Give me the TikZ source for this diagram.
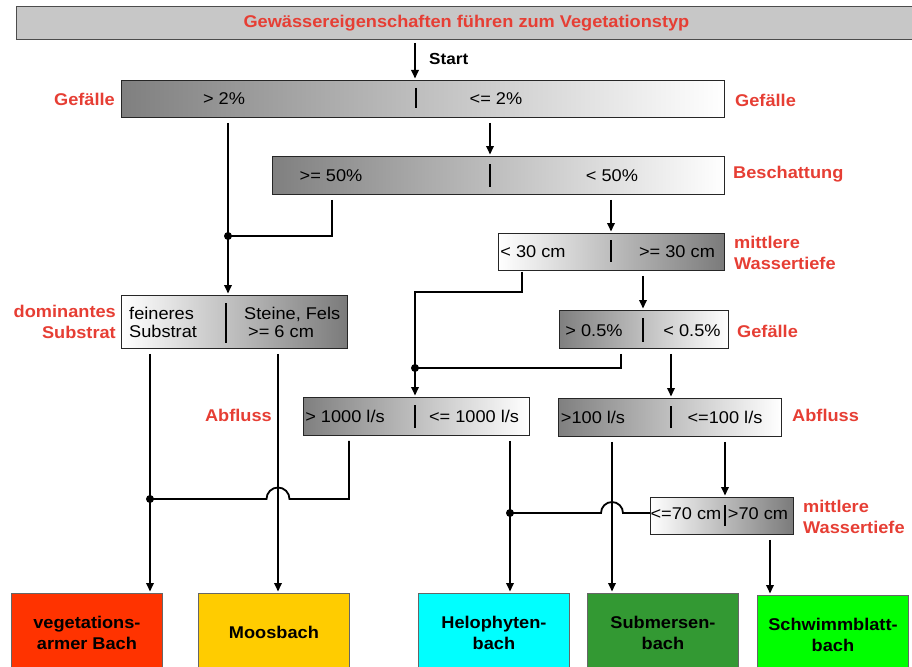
\documentclass[tikz,border=0pt]{standalone}
\usepackage{fontspec}
\setmainfont{Liberation Sans}[FakeStretch=1.07]
\usetikzlibrary{arrows.meta,calc}
\definecolor{lblred}{RGB}{230,62,52}
\definecolor{cveg}{RGB}{255,51,0}
\definecolor{cmoos}{RGB}{255,204,0}
\definecolor{chelo}{RGB}{0,255,255}
\definecolor{csubm}{RGB}{51,153,51}
\definecolor{cschw}{RGB}{0,255,0}
\begin{document}
\begin{tikzpicture}[x=1pt,y=-1pt,
  dbox/.style={draw=black!85,line width=0.9pt,inner sep=0,anchor=north west},
  darkleft/.style={left color=black!50,right color=white},
  darkright/.style={left color=white,right color=black!52},
  opt/.style={inner sep=0,font=\fontsize{17}{18}\selectfont},
  lab/.style={inner sep=0,text=lblred,font=\bfseries\fontsize{17}{21}\selectfont},
  divline/.style={line width=2.4pt},
  conn/.style={line width=1.8pt},
  from/.style={shorten <=5pt},
  arr/.style={conn,-{Triangle[length=8.5pt,width=7.5pt]},shorten >=1.5pt},
  endbox/.style={draw=black!60,line width=0.9pt,inner sep=0,anchor=north west,
    minimum width=151,minimum height=78,align=center,
    font=\bfseries\fontsize{17}{21}\selectfont},
  dot/.style={fill=black}]
\useasboundingbox (0,0) rectangle (912,666);
\clip (0,0) rectangle (912,666);

% title
\node[draw=black!70,fill=black!22,line width=0.9pt,inner sep=0,anchor=north west,
  minimum width=900,minimum height=33,text=lblred,font=\bfseries\fontsize{17}{20}\selectfont]
  (title) at (16,6) {Gewässereigenschaften führen zum Vegetationstyp};

% x positions
\coordinate (xs) at (415,0);
\coordinate (xa) at (228,0);
\coordinate (xb) at (490,0);
\coordinate (xc) at (332,0);
\coordinate (xd) at (611,0);
\coordinate (xe) at (522,0);
\coordinate (xf) at (643,0);
\coordinate (xg) at (621,0);
\coordinate (xh) at (671,0);
\coordinate (xi) at (150,0);
\coordinate (xj) at (278,0);
\coordinate (xk) at (349,0);
\coordinate (xl) at (510,0);
\coordinate (xm) at (612,0);
\coordinate (xn) at (725,0);
\coordinate (xo) at (770,0);

% decision boxes
\node[dbox,darkleft,minimum width=603,minimum height=37] (g1) at (121,80) {};
\node[dbox,darkleft,minimum width=452,minimum height=38] (g2) at (272,156) {};
\node[dbox,darkright,minimum width=226,minimum height=37] (g3) at (498,233) {};
\node[dbox,darkleft,minimum width=169,minimum height=38] (g4) at (559,310) {};
\node[dbox,darkright,minimum width=226,minimum height=53] (sub) at (121,295) {};
\node[dbox,darkleft,minimum width=226,minimum height=38] (g5) at (303,397) {};
\node[dbox,darkleft,minimum width=223,minimum height=38] (g6) at (558,398) {};
\node[dbox,darkright,minimum width=143,minimum height=37] (g7) at (650,497) {};

% dividers
\draw[divline] (416,88) -- (416,108);
\draw[divline] (490,164) -- (490,187);
\draw[divline] (611,240) -- (611,262);
\draw[divline] (643,318) -- (643,342);
\draw[divline] (226,303) -- (226,343);
\draw[divline] (415,405) -- (415,428);
\draw[divline] (671,406) -- (671,428);
\draw[divline] (725,505) -- (725,526);

% option texts
\node[opt] (g1a) at (224,99) {> 2\%};
\node[opt] (g1b) at (496,99) {<= 2\%};
\node[opt] (g2a) at (331,176) {>= 50\%};
\node[opt] (g2b) at (612,176) {< 50\%};
\node[opt] (g3a) at (533,252) {< 30 cm};
\node[opt] (g3b) at (677,252) {>= 30 cm};
\node[opt] (g4a) at (594,331) {> 0.5\%};
\node[opt] (g4b) at (692,331) {< 0.5\%};
\node[opt,anchor=west,align=left] (suba) at (129,322) {feineres\\Substrat};
\node[opt,anchor=west,align=left] (subb) at (244,322) {Steine, Fels\\\hspace*{4pt}>= 6 cm};
\node[opt] (g5a) at (345,416) {> 1000 l/s};
\node[opt] (g5b) at (474,416) {<= 1000 l/s};
\node[opt] (g6a) at (593,417) {>100 l/s};
\node[opt] (g6b) at (725,417) {<=100 l/s};
\node[opt] (g7a) at (686,514) {<=70 cm};
\node[opt] (g7b) at (758,514) {>70 cm};

% red labels
\node[lab,anchor=east] (l1) at (115,99) {Gefälle};
\node[lab,anchor=west] (l2) at (735,100) {Gefälle};
\node[lab,anchor=west] (l3) at (733,174) {Beschattung};
\node[lab,anchor=west,align=left] (l4) at (734,253) {mittlere\\Wassertiefe};
\node[lab,anchor=west] (l5) at (737,331) {Gefälle};
\node[lab,anchor=east,align=right] (l6) at (116,322) {dominantes\\Substrat};
\node[lab,anchor=east] (l7) at (272,415) {Abfluss};
\node[lab,anchor=west] (l8) at (792,415) {Abfluss};
\node[lab,anchor=west,align=left] (l9) at (803,517) {mittlere\\Wassertiefe};
\node[inner sep=0,anchor=west,font=\bfseries\fontsize{16}{20}\selectfont] (start) at (429,59) {Start};

% end boxes
\node[endbox,fill=cveg] (veg) at (11,593) {vegetations-\\armer Bach};
\node[endbox,fill=cmoos] (moos) at (198,593) {Moosbach};
\node[endbox,fill=chelo] (helo) at (418,593) {Helophyten-\\bach};
\node[endbox,fill=csubm] (subm) at (587,593) {Submersen-\\bach};
\node[endbox,fill=cschw] (schw) at (757,595) {Schwimmblatt-\\bach};

% junctions
\coordinate (j1) at (228,236);
\coordinate (j2) at (415,368);
\coordinate (j3) at (150,499);
\coordinate (j4) at (510,513);
\coordinate (k1) at (415,292);
\coordinate (h1) at (289.5,499);
\coordinate (h2) at (623,513);

% connectors
\coordinate (st) at (415,43);
\draw[arr] (st) -- (st |- g1.north);
\draw[arr,from] (g1.south -| xa) -- (sub.north -| xa);
\draw[arr,from] (g1.south -| xb) -- (g2.north -| xb);
\draw[conn,from] (g2.south -| xc) |- (j1);
\draw[arr,from] (g2.south -| xd) -- (g3.north -| xd);
\draw[arr,shorten <=1pt] (g3.south -| xe) |- (k1) -- (g5.north -| k1);
\draw[arr,from] (g3.south -| xf) -- (g4.north -| xf);
\draw[conn,from] (g4.south -| xg) |- (j2);
\draw[arr,from] (g4.south -| xh) -- (g6.north -| xh);
\draw[arr,from] (sub.south -| xi) -- (veg.north -| xi);
\draw[arr,from] (sub.south -| xj) -- (moos.north -| xj);
\draw[conn,from] (g5.south -| xk) |- (h1) arc[start angle=0,end angle=-180,radius=11.5] -- (j3);
\draw[arr,from] (g5.south -| xl) -- (helo.north -| xl);
\draw[arr,from] (g6.south -| xm) -- (subm.north -| xm);
\draw[arr,from] (g6.south -| xn) -- (g7.north -| xn);
\draw[conn] (g7.west |- j4) -- (h2) arc[start angle=0,end angle=-180,radius=11] -- (j4);
\draw[arr,from] (g7.south -| xo) -- (schw.north -| xo);

\fill[dot] (j1) circle (4);
\fill[dot] (j2) circle (4);
\fill[dot] (j3) circle (4);
\fill[dot] (j4) circle (4);
\end{tikzpicture}
\end{document}
